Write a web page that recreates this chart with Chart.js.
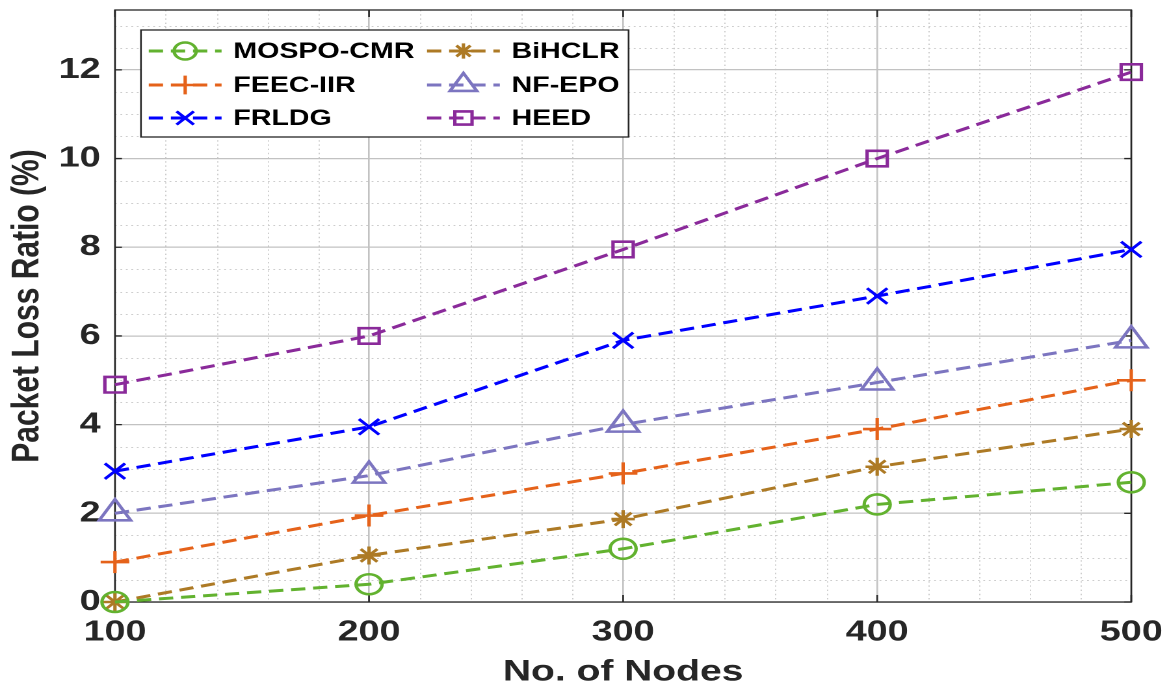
<!DOCTYPE html>
<html>
<head>
<meta charset="utf-8">
<script src="https://cdn.jsdelivr.net/npm/chart.js@4.4.1/dist/chart.umd.min.js"></script>
<style>
  html, body { margin: 0; padding: 0; background: #fff; overflow: hidden; width: 1169px; height: 685px; }
  /* the figure is drawn on a narrower canvas and widened, as in the exported figure */
  #wrap { position: absolute; left: 0; top: 0; width: 899px; height: 685px;
          transform-origin: 0 0; transform: scaleX(1.3003); }
</style>
</head>
<body>
<div id="wrap"><canvas id="c" width="899" height="685"></canvas></div>
<script>
// Packet loss ratio (%) against network size
const nodes     = [100, 200, 300, 400, 500];
const mospoCmr  = [0,    0.4,  1.2,  2.2,  2.7];
const feecIir   = [0.9,  1.95, 2.9,  3.9,  5.0];
const frldg     = [2.95, 3.95, 5.9,  6.9,  7.95];
const bihclr    = [0,    1.05, 1.87, 3.05, 3.9];
const nfEpo     = [2.0,  2.85, 4.0,  4.95, 5.9];
const heed      = [4.9,  6.0,  7.95, 10.0, 11.95];

const xTicks = [100, 200, 300, 400, 500];
const yTicks = [0, 2, 4, 6, 8, 10, 12];
const yMax = 13.35;

const FONT = "'Liberation Sans', Arial, Helvetica, sans-serif";
const INK = '#262626';
const DASH = [11, 6];

const seriesDefs = [
  { label: 'MOSPO-CMR', data: mospoCmr, color: '#62b22f', style: 'circle',   radius: 10 },
  { label: 'FEEC-IIR',  data: feecIir,  color: '#e5621a', style: 'cross',    radius: 11 },
  { label: 'FRLDG',     data: frldg,    color: '#0000ff', style: 'crossRot', radius: 11 },
  { label: 'BiHCLR',    data: bihclr,   color: '#ad7a25', style: 'star',     radius: 9 },
  { label: 'NF-EPO',    data: nfEpo,    color: '#7c75c0', style: 'triangle', radius: 14 },
  { label: 'HEED',      data: heed,     color: '#8a2a9a', style: 'rect',     radius: 11 }
];

const datasets = seriesDefs.map(s => ({
  label: s.label,
  data: nodes.map((n, i) => ({ x: n, y: s.data[i] })),
  borderColor: s.color,
  backgroundColor: 'rgba(0,0,0,0)',
  borderWidth: 3,
  borderDash: DASH,
  pointStyle: s.style,
  pointRadius: s.radius,
  pointHoverRadius: s.radius,
  pointBorderWidth: 2.6,
  pointBorderColor: s.color,
  pointBackgroundColor: 'rgba(0,0,0,0)',
  tension: 0,
  clip: false
}));

// dotted minor grid, axes box and inward tick marks
const framePlugin = {
  id: 'frame',
  beforeDraw(chart) {
    const { ctx, chartArea: a, scales: { x, y } } = chart;
    ctx.save();
    ctx.strokeStyle = '#cdcdcd';
    ctx.lineWidth = 1;
    ctx.setLineDash([1.4, 2.8]);
    ctx.beginPath();
    for (let v = 100; v < 500; v += 20) {
      if (v % 100 === 0) continue;
      const px = Math.round(x.getPixelForValue(v)) + 0.5;
      ctx.moveTo(px, a.top); ctx.lineTo(px, a.bottom);
    }
    for (let v = 0.5; v < yMax; v += 0.5) {
      if (v % 2 === 0) continue;
      const py = Math.round(y.getPixelForValue(v)) + 0.5;
      ctx.moveTo(a.left, py); ctx.lineTo(a.right, py);
    }
    ctx.stroke();
    ctx.restore();
  },
  beforeDatasetsDraw(chart) {
    const { ctx, chartArea: a, scales: { x, y } } = chart;
    ctx.save();
    ctx.strokeStyle = INK;
    ctx.lineWidth = 1.3;
    ctx.setLineDash([]);
    ctx.strokeRect(a.left, a.top, a.right - a.left, a.bottom - a.top);
    ctx.beginPath();
    const tl = 7;
    xTicks.forEach(v => {
      const px = x.getPixelForValue(v);
      ctx.moveTo(px, a.bottom); ctx.lineTo(px, a.bottom - tl);
      ctx.moveTo(px, a.top); ctx.lineTo(px, a.top + tl);
    });
    yTicks.forEach(v => {
      const py = y.getPixelForValue(v);
      ctx.moveTo(a.left, py); ctx.lineTo(a.left + tl * 0.77, py);
      ctx.moveTo(a.right, py); ctx.lineTo(a.right - tl * 0.77, py);
    });
    ctx.stroke();
    ctx.restore();
  }
};

// two-column legend box in the upper left of the axes
function drawMarker(ctx, style, r, cx, cy) {
  if (Chart.helpers && Chart.helpers.drawPoint) {
    Chart.helpers.drawPoint(ctx, { pointStyle: style, radius: r, rotation: 0, borderWidth: ctx.lineWidth }, cx, cy);
    return;
  }
  ctx.beginPath();
  ctx.arc(cx, cy, r, 0, Math.PI * 2);
  ctx.stroke();
}

const legendPlugin = {
  id: 'boxLegend',
  afterDraw(chart) {
    const { ctx, chartArea: a } = chart;
    const bx = a.left + 20, by = a.top + 20, bw = 375, bh = 107;
    ctx.save();
    ctx.fillStyle = '#ffffff';
    ctx.fillRect(bx, by, bw, bh);
    ctx.strokeStyle = INK;
    ctx.lineWidth = 1.3;
    ctx.setLineDash([]);
    ctx.strokeRect(bx, by, bw, bh);

    const cols = [0, 214];
    const rows = [21, 55, 88];
    chart.data.datasets.forEach((ds, i) => {
      const col = Math.floor(i / 3), row = i % 3;
      const x0 = bx + 6 + cols[col];
      const yc = by + rows[row];
      const def = seriesDefs[i];
      ctx.strokeStyle = ds.borderColor;
      ctx.lineWidth = 3;
      ctx.setLineDash(DASH);
      ctx.beginPath();
      ctx.moveTo(x0, yc); ctx.lineTo(x0 + 56, yc);
      ctx.stroke();
      ctx.setLineDash([]);
      ctx.lineWidth = 2.6;
      ctx.fillStyle = 'rgba(0,0,0,0)';
      drawMarker(ctx, def.style, def.radius * 0.85, x0 + 28, yc);
      ctx.fillStyle = '#000';
      ctx.font = 'bold 22px ' + FONT;
      ctx.textAlign = 'left';
      ctx.textBaseline = 'middle';
      ctx.fillText(ds.label, x0 + 65, yc + 1);
    });
    ctx.restore();
  }
};

new Chart(document.getElementById('c'), {
  type: 'line',
  data: { datasets },
  plugins: [framePlugin, legendPlugin],
  options: {
    responsive: false,
    devicePixelRatio: 2,
    animation: false,
    events: [],
    layout: { autoPadding: false, padding: { top: 10, right: 29, left: 0, bottom: 0 } },
    plugins: { legend: { display: false }, tooltip: { enabled: false } },
    scales: {
      x: {
        type: 'linear',
        min: 100, max: 500,
        afterBuildTicks: s => { s.ticks = xTicks.map(v => ({ value: v })); },
        afterFit: s => { s.height = 83; s.paddingLeft = 0; s.paddingRight = 0; },
        ticks: { color: INK, padding: 13, font: { family: FONT, size: 29, weight: 'bold' } },
        grid: { color: '#c2c2c2', lineWidth: 1.3, drawTicks: false },
        border: { display: false },
        title: { display: true, text: 'No. of Nodes', color: INK,
                 font: { family: FONT, size: 30, weight: 'bold', lineHeight: 0.85 },
                 padding: { top: 0, bottom: 0 } }
      },
      y: {
        type: 'linear',
        min: 0, max: yMax,
        afterBuildTicks: s => { s.ticks = yTicks.map(v => ({ value: v })); },
        afterFit: s => { s.width = 88.4; s.paddingTop = 0; s.paddingBottom = 0; },
        ticks: { color: INK, padding: 11, font: { family: FONT, size: 29, weight: 'bold', lineHeight: 0.6 } },
        grid: { color: '#c2c2c2', lineWidth: 1.3, drawTicks: false },
        border: { display: false },
        title: { display: true, text: 'Packet Loss Ratio (%)', color: INK,
                 font: { family: FONT, size: 30, weight: 'bold', lineHeight: 1.2 },
                 padding: { top: 3, bottom: 0 } }
      }
    }
  }
});
</script>
</body>
</html>
